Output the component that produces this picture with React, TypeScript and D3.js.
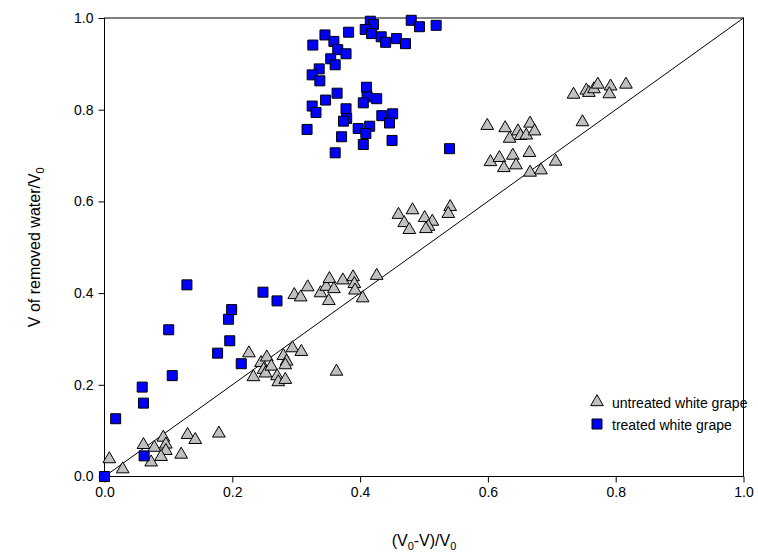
import React, { useEffect, useRef } from "react";
import * as d3 from "d3";

const untreatedX = [
  0.0075, 0.0285, 0.061, 0.073, 0.078, 0.092, 0.096, 0.096, 0.0885, 0.12, 0.13, 0.142, 0.179,
  0.226, 0.233, 0.245, 0.254, 0.249, 0.252, 0.261, 0.27, 0.272, 0.283, 0.28, 0.285, 0.283, 0.294, 0.308, 0.363,
  0.297, 0.307, 0.318, 0.338, 0.351, 0.347, 0.352, 0.359, 0.373, 0.389, 0.391, 0.392, 0.404, 0.426,
  0.46, 0.482, 0.469, 0.477, 0.501, 0.513, 0.507, 0.503, 0.541, 0.538,
  0.599, 0.627, 0.634, 0.647, 0.651, 0.66, 0.666, 0.673, 0.604, 0.618, 0.625, 0.639, 0.644, 0.665, 0.666, 0.683, 0.706,
  0.734, 0.754, 0.758, 0.766, 0.772, 0.792, 0.79, 0.816, 0.748,
];
const untreatedY = [
  0.038, 0.016, 0.069, 0.031, 0.063, 0.085, 0.07, 0.056, 0.043, 0.048, 0.091, 0.08, 0.094,
  0.269, 0.217, 0.248, 0.26, 0.233, 0.225, 0.24, 0.219, 0.206, 0.211, 0.263, 0.251, 0.243, 0.28, 0.272, 0.229,
  0.396, 0.391, 0.413, 0.4, 0.383, 0.414, 0.431, 0.409, 0.428, 0.435, 0.42, 0.406, 0.389, 0.438,
  0.571, 0.581, 0.553, 0.538, 0.564, 0.556, 0.545, 0.54, 0.588, 0.573,
  0.765, 0.76, 0.737, 0.753, 0.743, 0.744, 0.77, 0.753, 0.686, 0.695, 0.673, 0.7, 0.679, 0.706, 0.663, 0.668, 0.687,
  0.833, 0.842, 0.837, 0.845, 0.855, 0.851, 0.834, 0.855, 0.773,
];

const treatedX = [
  0, 0.0175, 0.059, 0.061, 0.062, 0.1005, 0.106, 0.129, 0.177, 0.194, 0.196, 0.199, 0.214, 0.248, 0.27,
  0.416, 0.421, 0.408, 0.418, 0.48, 0.493, 0.519, 0.382, 0.345, 0.359, 0.326, 0.433, 0.44, 0.457, 0.471,
  0.365, 0.378, 0.354, 0.361, 0.336, 0.325, 0.337, 0.41, 0.364, 0.346, 0.411, 0.426, 0.405, 0.325, 0.331,
  0.378, 0.379, 0.374, 0.434, 0.451, 0.446, 0.415, 0.397, 0.409, 0.317, 0.371, 0.405, 0.45, 0.361, 0.54,
];
const treatedY = [
  0, 0.126, 0.195, 0.16, 0.045, 0.32, 0.22, 0.418, 0.269, 0.343, 0.296, 0.364, 0.246, 0.402, 0.383,
  0.993, 0.986, 0.975, 0.966, 0.995, 0.981, 0.984, 0.969, 0.963, 0.949, 0.941, 0.959, 0.947, 0.955, 0.944,
  0.931, 0.922, 0.911, 0.898, 0.889, 0.876, 0.863, 0.849, 0.836, 0.821, 0.828, 0.824, 0.815, 0.808, 0.794,
  0.802, 0.781, 0.775, 0.787, 0.791, 0.771, 0.764, 0.759, 0.748, 0.757, 0.741, 0.724, 0.733, 0.706, 0.715,
];

const xTicks = [0, 0.2, 0.4, 0.6, 0.8, 1.0];
const yTicks = [0, 0.2, 0.4, 0.6, 0.8, 1.0];
const seriesNames = ["untreated white grape", "treated white grape"];

const W = 758;
const H = 557;
const M = { left: 104.5, right: 743.5, top: 18, bottom: 476.5 };
const FONT = "'Liberation Sans', Arial, sans-serif";

export default function App() {
  const ref = useRef<SVGSVGElement>(null);

  useEffect(() => {
    const svg = d3.select(ref.current);
    svg.selectAll("*").remove();

    const x = d3.scaleLinear().domain([0, 1]).range([M.left, M.right]);
    const y = d3.scaleLinear().domain([0, 1]).range([M.bottom, M.top]);

    // Frame
    svg.append("rect")
      .attr("x", M.left).attr("y", M.top)
      .attr("width", M.right - M.left).attr("height", M.bottom - M.top)
      .attr("fill", "none").attr("stroke", "#000").attr("stroke-width", 1);

    // Axes
    const xAxis = d3.axisBottom(x).tickValues(xTicks).tickFormat(d3.format(".1f")).tickSize(6).tickPadding(5);
    const gx = svg.append("g").attr("transform", `translate(0,${M.bottom})`).call(xAxis);
    gx.select(".domain").remove();
    gx.selectAll("text").attr("font-family", FONT).attr("font-size", 14).attr("fill", "#000");
    gx.selectAll("line").attr("stroke", "#000");

    const yAxis = d3.axisLeft(y).tickValues(yTicks).tickFormat(d3.format(".1f")).tickSize(6).tickPadding(5);
    const gy = svg.append("g").attr("transform", `translate(${M.left},0)`).call(yAxis);
    gy.select(".domain").remove();
    gy.selectAll("text").attr("font-family", FONT).attr("font-size", 14).attr("fill", "#000");
    gy.selectAll("line").attr("stroke", "#000");

    // 1:1 line
    const line = d3.line<number>().x((d) => x(d)).y((d) => y(d));
    svg.append("path").datum([0, 1]).attr("d", line).attr("stroke", "#000").attr("stroke-width", 1).attr("fill", "none");

    const tri = d3.symbol().type(d3.symbolTriangle).size(70);
    const sq = d3.symbol().type(d3.symbolSquare).size(100);

    const untreated = untreatedX.map((v, i) => [v, untreatedY[i]]);
    const treated = treatedX.map((v, i) => [v, treatedY[i]]);

    svg.append("g").selectAll("path").data(untreated).join("path")
      .attr("d", tri as any)
      .attr("transform", (d) => `translate(${x(d[0])},${y(d[1])})`)
      .attr("fill", "#c0c0c0").attr("stroke", "#000").attr("stroke-width", 1);

    svg.append("g").selectAll("path").data(treated).join("path")
      .attr("d", sq as any)
      .attr("transform", (d) => `translate(${x(d[0])},${y(d[1])})`)
      .attr("fill", "#0000ff").attr("stroke", "#000").attr("stroke-width", 1);

    // Legend
    const lg = svg.append("g");
    lg.append("path").attr("d", tri as any).attr("transform", "translate(597,402)")
      .attr("fill", "#c0c0c0").attr("stroke", "#000");
    lg.append("path").attr("d", sq as any).attr("transform", "translate(597,424)")
      .attr("fill", "#0000ff").attr("stroke", "#000");
    seriesNames.forEach((n, i) => {
      lg.append("text").attr("x", 612).attr("y", 403 + i * 22).attr("dy", "0.35em")
        .attr("font-family", FONT).attr("font-size", 14).attr("fill", "#000").text(n);
    });

    // X title
    const xt = svg.append("text").attr("x", (M.left + M.right) / 2).attr("y", 546)
      .attr("text-anchor", "middle").attr("font-family", FONT).attr("font-size", 16).attr("fill", "#000");
    xt.append("tspan").text("(V");
    xt.append("tspan").attr("dy", 4).attr("font-size", 11).text("0");
    xt.append("tspan").attr("dy", -4).text("-V)/V");
    xt.append("tspan").attr("dy", 4).attr("font-size", 11).text("0");

    // Y title
    const yt = svg.append("text").attr("transform", `translate(40,${(M.top + M.bottom) / 2}) rotate(-90)`)
      .attr("text-anchor", "middle").attr("font-family", FONT).attr("font-size", 16).attr("fill", "#000");
    yt.append("tspan").text("V of removed water/V");
    yt.append("tspan").attr("dy", 4).attr("font-size", 11).text("0");
  }, []);

  return (
    <svg ref={ref} width={W} height={H} style={{ position: "absolute", left: 0, top: 0, background: "#fff" }} />
  );
}
